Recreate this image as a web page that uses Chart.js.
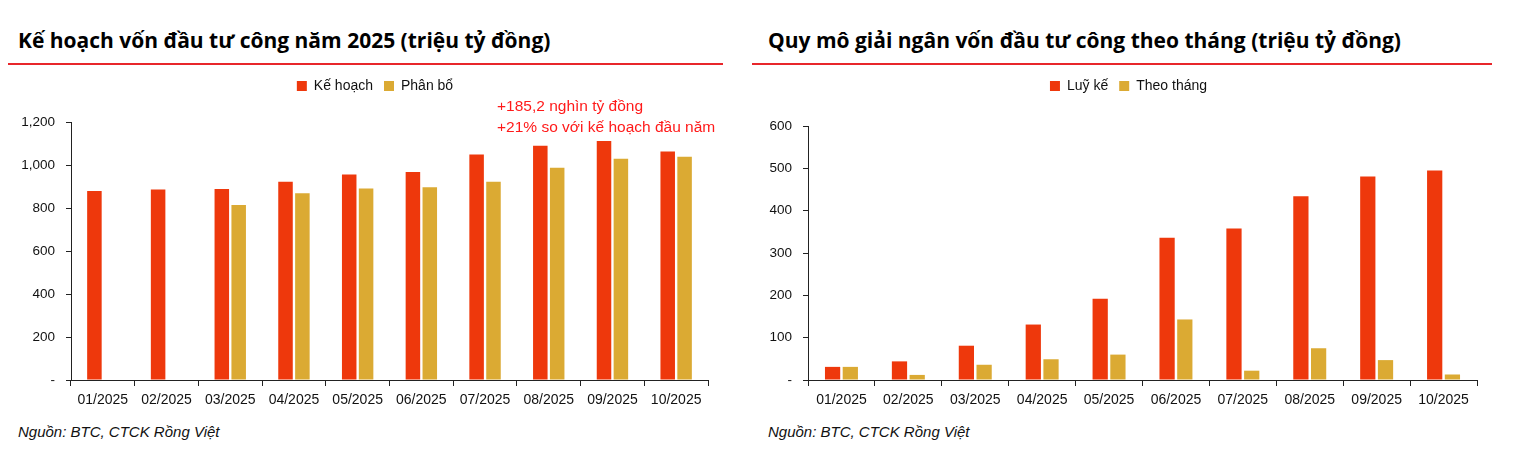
<!DOCTYPE html>
<html>
<head>
<meta charset="utf-8">
<script src="https://cdn.jsdelivr.net/npm/chart.js@4.4.1/dist/chart.umd.min.js"></script>
<style>
  body { margin: 0; background: #fff; font-family: "Liberation Sans", Arial, sans-serif; }
  .panel { position: absolute; top: 0; height: 462px; }
  .title { position: absolute; top: 26px; font: bold 21px "Open Sans", sans-serif; color: #000; white-space: nowrap; }
  .rule { position: absolute; top: 63px; height: 2px; background: #e8262b; }
  .src { position: absolute; top: 423px; font: italic 15px "Liberation Sans", Arial, sans-serif; color: #111; }
  canvas { position: absolute; }
</style>
</head>
<body>
<div class="panel" style="left:0;width:740px">
  <div class="title" style="left:18px">Kế hoạch vốn đầu tư công năm 2025 (triệu tỷ đồng)</div>
  <div class="rule" style="left:8px;width:715px"></div>
  <div style="position:absolute;left:8px;top:68px;width:715px;height:350px"><canvas id="c1"></canvas></div>
  <div class="src" style="left:18px">Nguồn: BTC, CTCK Rồng Việt</div>
</div>
<div class="panel" style="left:740px;width:780px">
  <div class="title" style="left:28px">Quy mô giải ngân vốn đầu tư công theo tháng (triệu tỷ đồng)</div>
  <div class="rule" style="left:12px;width:740px"></div>
  <div style="position:absolute;left:12px;top:68px;width:740px;height:350px"><canvas id="c2"></canvas></div>
  <div class="src" style="left:28px">Nguồn: BTC, CTCK Rồng Việt</div>
</div>
<script>
const months = ['01/2025', '02/2025', '03/2025', '04/2025', '05/2025', '06/2025', '07/2025', '08/2025', '09/2025', '10/2025'];

// chart 1: kế hoạch / phân bổ
const keHoach = [879, 886, 888, 922, 956, 968, 1049, 1089, 1112, 1063];
const phanBo = [null, null, 814, 869, 891, 896, 922, 987, 1029, 1038];
const ticks1 = [0, 200, 400, 600, 800, 1000, 1200];
const note1 = ['+185,2 nghìn tỷ đồng', '+21% so với kế hoạch đầu năm'];

// chart 2: luỹ kế / theo tháng
const luyKe = [31, 44, 81, 131, 192, 336, 358, 434, 481, 495];
const theoThang = [31, 12, 36, 49, 60, 143, 22, 75, 47, 13];
const ticks2 = [0, 100, 200, 300, 400, 500, 600];

const RED = '#ee380c';
const GOLD = '#dbaa33';
const FONT = '"Liberation Sans", Arial, sans-serif';

const noteLines = {
    id: 'noteLines',
    afterDatasetsDraw(chart, args, opts) {
        if (!opts.lines) return;
        const ctx = chart.ctx;
        const y = chart.scales.y.getPixelForValue(1200);
        ctx.save();
        ctx.font = '15.5px ' + FONT;
        ctx.fillStyle = '#ff1a1a';
        ctx.textBaseline = 'middle';
        opts.lines.forEach((t, i) => ctx.fillText(t, chart.chartArea.right - 211, y - 15 + i * 21));
        ctx.restore();
    }
};

// extra space below the legend, and nudge it sideways
const legendGap = {
    id: 'legendGap',
    beforeInit(chart, args, opts) {
        const fit = chart.legend.fit;
        chart.legend.fit = function () {
            fit.bind(chart.legend)();
            this.height += opts.gap || 0;
        };
    },
    afterLayout(chart, args, opts) {
        chart.legend.left += opts.shift || 0;
        chart.legend.right += opts.shift || 0;
    }
};

function makeChart(id, labels, names, a, b, tickVals, yWidth, gap, shift, note) {
    const ctx = document.getElementById(id).getContext('2d');
    return new Chart(ctx, {
        type: 'bar',
        data: {
            labels: labels,
            datasets: [
                { label: names[0], data: a, backgroundColor: RED, categoryPercentage: 0.53, barPercentage: 0.86 },
                { label: names[1], data: b, backgroundColor: GOLD, categoryPercentage: 0.53, barPercentage: 0.86 }
            ]
        },
        options: {
            responsive: true,
            maintainAspectRatio: false,
            animation: false,
            layout: { padding: { right: 15, top: 0 } },
            plugins: {
                legend: {
                    position: 'top',
                    labels: { boxWidth: 10, boxHeight: 10, padding: 11, color: '#111', font: { size: 14, family: FONT } }
                },
                tooltip: { enabled: false },
                noteLines: { lines: note },
                legendGap: { gap: gap, shift: shift }
            },
            scales: {
                x: {
                    grid: { display: true, drawOnChartArea: false, offset: true, color: '#222', tickLength: 6 },
                    border: { display: true, color: '#222' },
                    ticks: { color: '#111', padding: 6, font: { size: 14, family: FONT }, maxRotation: 0 },
                    afterFit(s) { s.height = 38; }
                },
                y: {
                    min: tickVals[0],
                    max: tickVals[tickVals.length - 1],
                    afterBuildTicks(s) { s.ticks = tickVals.map(v => ({ value: v })); },
                    grid: { display: true, drawOnChartArea: false, color: '#222', tickLength: 5 },
                    border: { display: true, color: '#222' },
                    ticks: {
                        color: '#111',
                        padding: 11,
                        font: { size: 13.5, family: FONT },
                        callback: v => v === 0 ? '-' : v.toLocaleString('en-US')
                    },
                    afterFit(s) { s.width = yWidth; }
                }
            }
        },
        plugins: [legendGap, noteLines]
    });
}

makeChart('c1', months, ['Kế hoạch', 'Phân bổ'], keHoach, phanBo, ticks1, 63, 19, 17, note1);
makeChart('c2', months, ['Luỹ kế', 'Theo tháng'], luyKe, theoThang, ticks2, 56, 23, 14, null);
</script>
</body>
</html>
